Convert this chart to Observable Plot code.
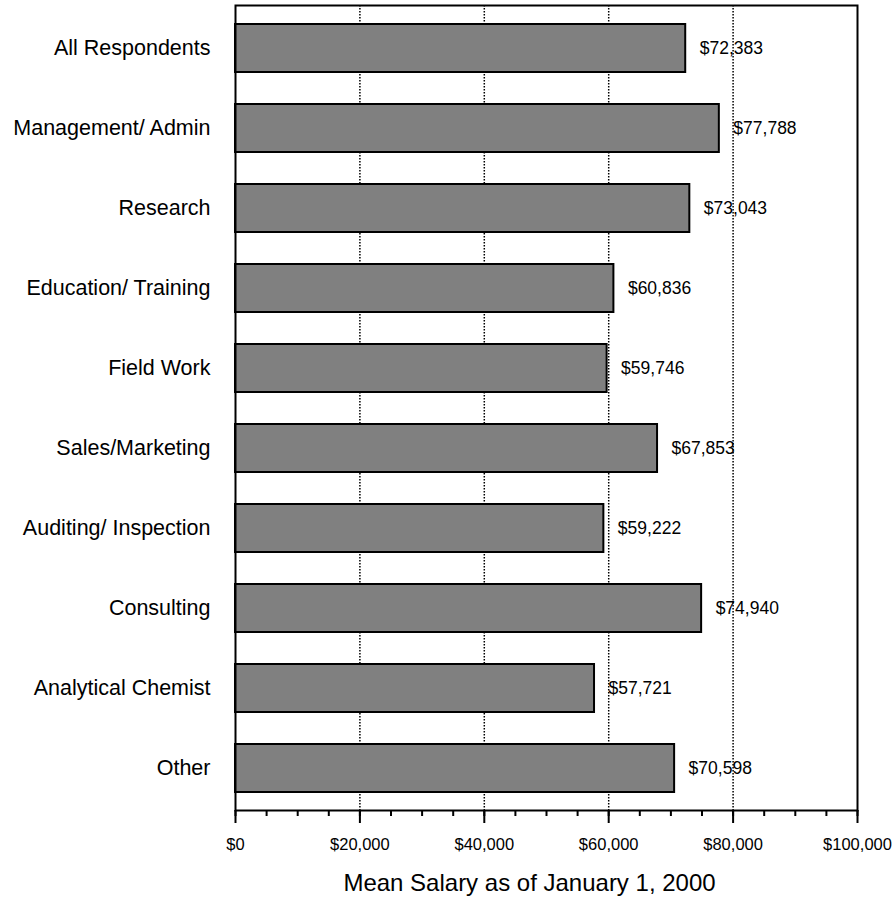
<!DOCTYPE html>
<html>
<head>
<meta charset="utf-8">
<script src="https://cdn.jsdelivr.net/npm/d3@7"></script>
<script src="https://cdn.jsdelivr.net/npm/@observablehq/plot@0.6"></script>
<style>
  html, body { margin: 0; padding: 0; background: #fff; }
  svg { font-family: Arial, "Liberation Sans", sans-serif; }
</style>
</head>
<body>
<div id="chart"></div>
<script>
const categories = ["All Respondents", "Management/ Admin", "Research", "Education/ Training", "Field Work", "Sales/Marketing", "Auditing/ Inspection", "Consulting", "Analytical Chemist", "Other"];
const salaries = [72383, 77788, 73043, 60836, 59746, 67853, 59222, 74940, 57721, 70598];
const majorTicks = [0, 20000, 40000, 60000, 80000, 100000];
const gridTicks = [20000, 40000, 60000, 80000];
const minorTicks = d3.range(0, 100001, 5000);
const title = "Mean Salary as of January 1, 2000";

const data = categories.map((c, i) => ({category: c, salary: salaries[i]}));
const fmt = v => "$" + d3.format(",")(v);

const chart = Plot.plot({
  width: 894,
  height: 911,
  marginLeft: 235,
  marginRight: 37,
  marginTop: 5,
  marginBottom: 101,
  style: {fontFamily: "Arial, 'Liberation Sans', sans-serif", color: "black", background: "white"},
  x: {domain: [0, 100000]},
  y: {domain: categories, paddingInner: 0.4, paddingOuter: 0.2},
  marks: [
    Plot.ruleX(gridTicks, {stroke: "black", strokeWidth: 1.5, strokeDasharray: "1.5,1.5"}),
    Plot.barX(data, {x: "salary", y: "category", fill: "#808080", stroke: "black", strokeWidth: 2}),
    Plot.text(data, {x: "salary", y: "category", text: d => fmt(d.salary), textAnchor: "start", dx: 14, fontSize: 17.5, fill: "black"}),
    Plot.axisY({tickSize: 0, tickPadding: 25, fontSize: 21.5, label: null}),
    Plot.axisX({ticks: minorTicks, tickSize: 6, tickFormat: () => "", strokeWidth: 2, label: null}),
    Plot.axisX({ticks: majorTicks, tickSize: 13, tickPadding: 15, tickFormat: fmt, fontSize: 16.5, strokeWidth: 2, label: null}),
    Plot.frame({stroke: "black", strokeWidth: 2}),
    Plot.text([title], {frameAnchor: "bottom", dy: 80, dx: -17, fontSize: 24, fill: "black"})
  ]
});
document.getElementById("chart").appendChild(chart);
</script>
</body>
</html>
